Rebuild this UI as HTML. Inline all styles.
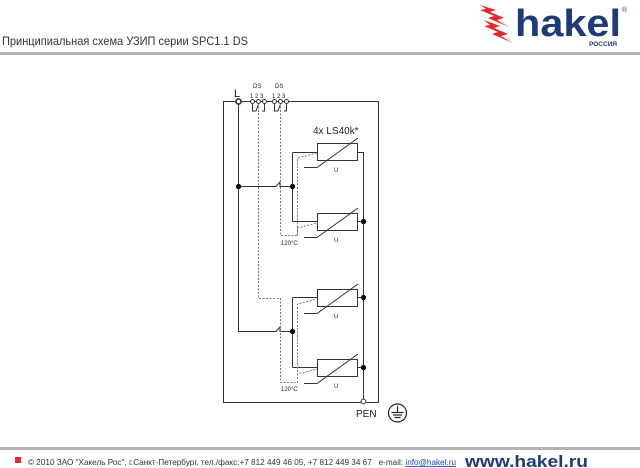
<!DOCTYPE html>
<html><head><meta charset="utf-8"><style>
html,body{margin:0;padding:0;background:#fff;}
svg{display:block}
text{font-family:"Liberation Sans",sans-serif}
</style></head><body>
<svg width="640" height="468" viewBox="0 0 640 468" xmlns="http://www.w3.org/2000/svg">
<!-- header -->
<text x="2" y="45" font-size="12" fill="#333" textLength="246" lengthAdjust="spacingAndGlyphs">Принципиальная схема УЗИП серии SPC1.1 DS</text>
<rect x="0" y="52" width="640" height="3" fill="#b4b4b4"/>
<!-- logo -->
<g fill="#e8262b">
<polygon points="480,5 496,10 490,12 504,18 497,20 509,27 488,18 494,16 480,10 486,9"/>
<polygon points="484,20 500,26 494,28 508,34 501,36 513,43 492,34 498,32 484,26 490,25"/>
</g>
<text x="515" y="36" font-size="38" font-weight="bold" fill="#1e3a78" textLength="106" lengthAdjust="spacingAndGlyphs">hakel</text>
<text x="622" y="12" font-size="7" fill="#1e3a78">®</text>
<text x="589" y="46" font-size="6.5" font-weight="bold" fill="#1e3a78">РОССИЯ</text>
<!-- footer -->
<rect x="0" y="447" width="640" height="3" fill="#b4b4b4"/>
<rect x="15" y="457" width="6" height="6" fill="#e8262b"/>
<text x="28" y="465" font-size="8.3" fill="#333" textLength="428" lengthAdjust="spacingAndGlyphs">© 2010 ЗАО "Хакель Рос", г.Санкт-Петербург, тел./факс:+7 812 449 46 05, +7 812 449 34 67 &#160;&#160;e-mail: <tspan fill="#1a3fb8" text-decoration="underline">info@hakel.ru</tspan></text>
<text x="465" y="467" font-size="17" font-weight="bold" fill="#1e3a78" textLength="123" lengthAdjust="spacingAndGlyphs">www.hakel.ru</text>

<!-- diagram -->
<g stroke="#333" stroke-width="1" fill="none">
<rect x="223.5" y="101.5" width="155" height="301"/>
<polyline points="238.5,101 238.5,331.5 276,331.5 280,327 280,331.5 292,331.5"/>
<polyline points="238.5,186.5 276,186.5 280,182 280,186.5 292,186.5"/>
<line x1="292.5" y1="152.5" x2="292.5" y2="221.5"/>
<line x1="292.5" y1="297.5" x2="292.5" y2="367.5"/>
<polyline points="292.5,152.5 317,152.5"/>
<polyline points="292.5,221.5 317,221.5"/>
<polyline points="292.5,297.5 317,297.5"/>
<polyline points="292.5,367.5 317,367.5"/>
<polyline points="357,152.5 363.5,152.5 363.5,401"/>
<line x1="357" y1="221.5" x2="363.5" y2="221.5"/>
<line x1="357" y1="297.5" x2="363.5" y2="297.5"/>
<line x1="357" y1="367.5" x2="363.5" y2="367.5"/>
<rect x="317.5" y="143.5" width="40" height="17"/>
<rect x="317.5" y="213.5" width="40" height="17"/>
<rect x="317.5" y="289.5" width="40" height="17"/>
<rect x="317.5" y="359.5" width="40" height="17"/>
<polyline points="304,167.5 317,167.5 358,138"/>
<polyline points="304,237.5 317,237.5 358,208"/>
<polyline points="304,313.5 317,313.5 358,284"/>
<polyline points="304,383.5 317,383.5 358,354"/>
<polyline points="252.5,101 252.5,111 256,111 258.5,104"/>
<polyline points="264.5,101 264.5,111 262,111"/>
<polyline points="274.5,101 274.5,111 278,111 280.5,104"/>
<polyline points="286.5,101 286.5,111 284,111"/>
</g>
<g stroke="#777" stroke-width="1" fill="none" stroke-dasharray="2,1.5">
<polyline points="258.5,103 258.5,298.5 280.5,298.5 280.5,382.5 297.5,382.5 297.5,304 317,299"/>
<polyline points="297.5,382.5 297.5,374 317,369"/>
<polyline points="280.5,103 280.5,235.5 297.5,235.5 297.5,158 317,153"/>
<polyline points="297.5,235.5 297.5,228 317,223"/>
</g>
<g fill="#fff" stroke="#333" stroke-width="1">
<circle cx="238.5" cy="101.5" r="2.6" stroke-width="1.6"/>
<circle cx="252.5" cy="101.5" r="2"/><circle cx="258.5" cy="101.5" r="2"/><circle cx="264.5" cy="101.5" r="2"/>
<circle cx="274.5" cy="101.5" r="2"/><circle cx="280.5" cy="101.5" r="2"/><circle cx="286.5" cy="101.5" r="2"/>
<circle cx="363.5" cy="401.5" r="2.4"/>
</g>
<g fill="#000">
<circle cx="238.5" cy="186.5" r="2.6"/>
<circle cx="292.5" cy="186.5" r="2.6"/>
<circle cx="292.5" cy="331.5" r="2.6"/>
<circle cx="363.5" cy="221.5" r="2.6"/>
<circle cx="363.5" cy="297.5" r="2.6"/>
<circle cx="363.5" cy="367.5" r="2.6"/>
</g>
<g fill="#222">
<text x="234" y="97" font-size="11">L</text>
<text x="253" y="88" font-size="6">DS</text>
<text x="275" y="88" font-size="6">DS</text>
<text x="250" y="98" font-size="6">1 2 3</text>
<text x="272" y="98" font-size="6">1 2 3</text>
<text x="313" y="134" font-size="10">4x LS40k*</text>
<text x="334" y="172" font-size="6">U</text>
<text x="334" y="242" font-size="6">U</text>
<text x="334" y="318" font-size="6">U</text>
<text x="334" y="388" font-size="6">U</text>
<text x="281" y="245" font-size="6">120°C</text>
<text x="281" y="391" font-size="6">120°C</text>
<text x="356" y="417" font-size="10">PEN</text>
</g>
<g stroke="#222" fill="none" stroke-width="1.2">
<circle cx="397.5" cy="413" r="9"/>
<line x1="397.5" y1="406" x2="397.5" y2="412"/>
<line x1="391.5" y1="412.5" x2="403.5" y2="412.5"/>
<line x1="393" y1="415" x2="402" y2="415"/>
<line x1="394.5" y1="417.5" x2="400.5" y2="417.5"/>
</g>
</svg>
</body></html>
